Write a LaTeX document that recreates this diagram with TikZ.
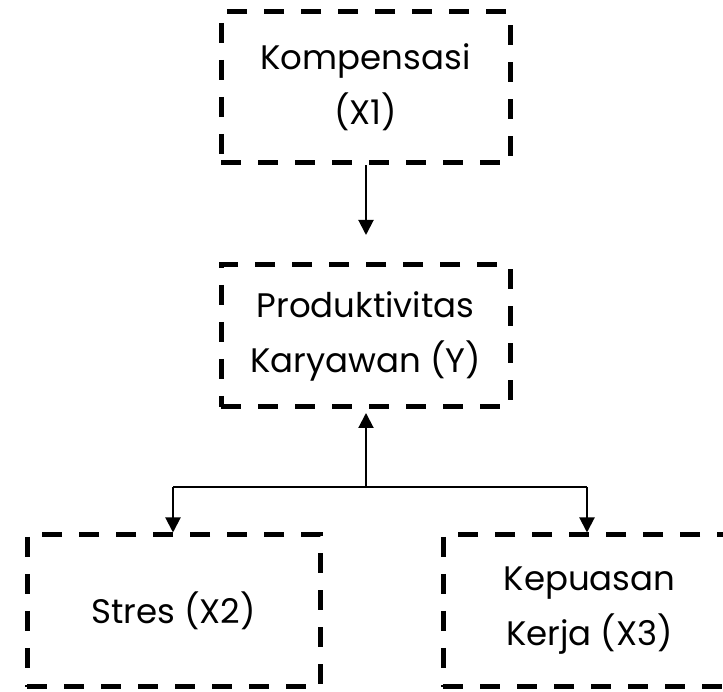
\documentclass[tikz,border=0pt]{standalone}
\usepackage{fontspec}
\setmainfont{Poppins}
\usetikzlibrary{arrows.meta}
\tikzset{
  dbox/.style={draw, line width=5pt, dash pattern=on 20pt off 17pt, minimum width=#1, inner sep=0pt, align=center, font=\fontsize{34}{55}\selectfont},
  conn/.style={line width=2pt, -{Triangle[length=15pt,width=15pt]}},
  plain/.style={line width=2pt}
}
\begin{document}
\begin{tikzpicture}[x=1pt,y=1pt]
\clip (0,0) rectangle (723,692);
\fill[white] (0,0) rectangle (723,692);
\node[dbox=289pt, minimum height=151pt] (k) at (365.5,604.5) {Kompensasi\\(X1)};
\node[dbox=289pt, minimum height=142pt] (p) at (365.5,356) {Produktivitas\\Karyawan (Y)};
\node[dbox=293pt, minimum height=152pt] (s) at (173.5,81) {Stres (X2)};
\node[dbox=293pt, minimum height=152pt] (q) at (589.5,81) {Kepuasan\\Kerja (X3)};
\coordinate (ka) at (366,457);
\coordinate (j) at (366,205);
\coordinate (jl) at (173,205);
\coordinate (jr) at (587,205);
\draw[conn] (k.south -| ka) -- (ka);
\draw[conn] (j) -- (366,279);
\draw[plain] (jl) -- (jr);
\draw[conn] (jl) -- (jl |- s.north);
\draw[conn] (jr) -- (jr |- q.north);
\end{tikzpicture}
\end{document}
